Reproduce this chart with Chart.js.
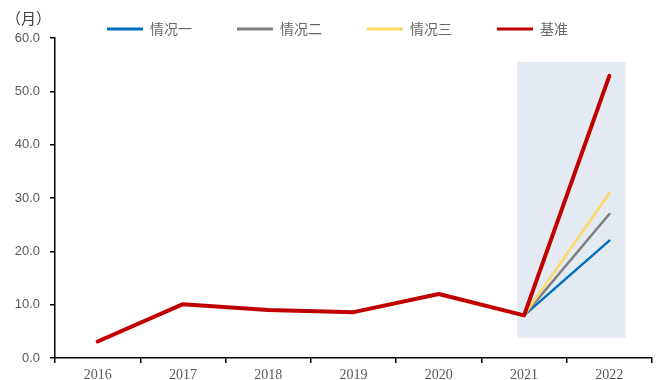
<!DOCTYPE html>
<html>
<head>
<meta charset="utf-8">
<script src="https://cdn.jsdelivr.net/npm/chart.js@4"></script>
<style>
    html, body { margin: 0; padding: 0; background: #fff; }
    #wrap { width: 662px; height: 380px; }
</style>
</head>
<body>
<div id="wrap"><canvas id="chart"></canvas></div>
<script>
const YEARS = ["2016", "2017", "2018", "2019", "2020", "2021", "2022"];
const BASE = [3.1, 10.1, 9.0, 8.6, 12.0, 8.0, 52.9];
const CASE_1 = [null, null, null, null, null, 8.0, 22.0];
const CASE_2 = [null, null, null, null, null, 8.0, 27.0];
const CASE_3 = [null, null, null, null, null, 8.0, 30.9];
const Y_TICKS = [0, 10, 20, 30, 40, 50, 60];
// shaded forecast window, in category index / value units
const SHADE_X = [4.92, 6.19];
const SHADE_Y = [3.8, 55.5];

(function () {
    "use strict";
    const tickColor = "#595959";
    const cjk = '"Noto Sans CJK SC", "Noto Sans", sans-serif';

    const shade = {
        id: "shade",
        beforeDatasetsDraw(chart) {
            const { ctx, scales: { x, y } } = chart;
            const x0 = x.getPixelForValue(SHADE_X[0]), x1 = x.getPixelForValue(SHADE_X[1]);
            const y0 = y.getPixelForValue(SHADE_Y[1]), y1 = y.getPixelForValue(SHADE_Y[0]);
            ctx.save();
            ctx.fillStyle = "#e3eaf2";
            ctx.fillRect(x0, y0, x1 - x0, y1 - y0);
            ctx.restore();
        },
    };

    // put title and legend where they sit in the layout
    const place = {
        id: "place",
        afterLayout(chart) {
            chart.titleBlock.left = 6;
            const lg = chart.legend, pad = lg.options.labels.padding;
            lg.left = 107 - pad;
            lg.right = 662;
            lg.top = 22 - pad;
            lg.bottom = 40;
        },
    };

    const line = (label, data, color, width, order) => ({
        label, data, order,
        borderColor: color, backgroundColor: color, borderWidth: width,
        pointRadius: 0, pointHoverRadius: 0, tension: 0, fill: false,
        borderCapStyle: "round", borderJoinStyle: "round",
    });

    new Chart(document.getElementById("chart"), {
        type: "line",
        data: {
            labels: YEARS,
            datasets: [
                line("情况一", CASE_1, "#0070c0", 2.5, 3),
                line("情况二", CASE_2, "#7f7f7f", 2.5, 2),
                line("情况三", CASE_3, "#ffd966", 2.5, 1),
                line("基准", BASE, "#c00000", 4, 0),
            ],
        },
        options: {
            responsive: true,
            maintainAspectRatio: false,
            animation: false,
            layout: { padding: { left: 0, right: 10, top: 0, bottom: 0 } },
            plugins: {
                tooltip: { enabled: false },
                title: {
                    display: true, text: "（月）", align: "start", color: "#404040",
                    font: { family: cjk, size: 15, weight: "normal" },
                    padding: { top: 9, bottom: 0 },
                },
                legend: {
                    position: "top", align: "start", maxHeight: 11,
                    labels: {
                        boxWidth: 36, boxHeight: 3, padding: 45, color: "#666",
                        font: { family: cjk, size: 14 },
                        sort: (a, b) => a.datasetIndex - b.datasetIndex,
                        generateLabels: (chart) => Chart.defaults.plugins.legend.labels.generateLabels(chart)
                            .map((l) => ({ ...l, lineWidth: 0, fillStyle: l.strokeStyle })),
                    },
                },
            },
            scales: {
                x: {
                    offset: true,
                    grid: { offset: true, drawOnChartArea: false, drawTicks: true, tickLength: 5, color: "#000", lineWidth: 1.5 },
                    border: { display: true, color: "#000", width: 1.5 },
                    ticks: { color: tickColor, padding: 4, font: { family: '"Liberation Serif", serif', size: 14 } },
                    afterFit(s) { s.height = 22; },
                },
                y: {
                    min: 0, max: 60,
                    afterBuildTicks(s) { s.ticks = Y_TICKS.map((v) => ({ value: v })); },
                    grid: { drawOnChartArea: false, drawTicks: true, tickLength: 5, color: "#000", lineWidth: 1.5 },
                    border: { display: true, color: "#000", width: 1.5 },
                    ticks: { color: tickColor, padding: 10, callback: (v) => Number(v).toFixed(1), font: { family: '"Liberation Sans", sans-serif', size: 13 } },
                    afterFit(s) { s.width = 55; },
                },
            },
        },
        plugins: [shade, place],
    });
})();
</script>
</body>
</html>
